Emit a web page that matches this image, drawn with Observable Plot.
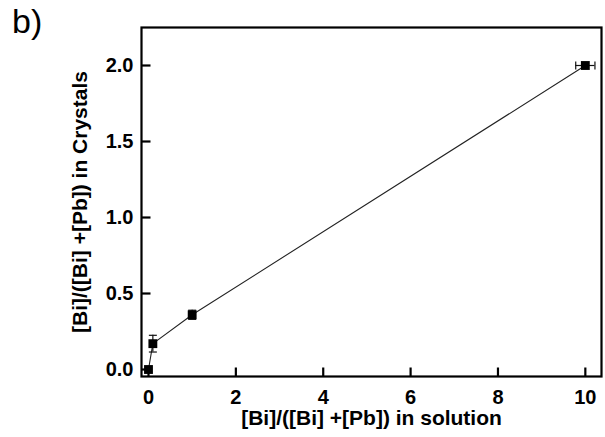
<!DOCTYPE html>
<html><head><meta charset="utf-8">
<script src="https://cdn.jsdelivr.net/npm/d3@7"></script>
<script src="https://cdn.jsdelivr.net/npm/@observablehq/plot@0.6"></script>
<style>
body{margin:0;background:#fff;}
#wrap{position:relative;width:605px;height:437px;}
#lbl{position:absolute;left:12px;top:2px;font:34px "Liberation Sans",Arial,sans-serif;color:#000;}
</style></head>
<body><div id="wrap"><div id="lbl">b)</div></div>
<script>
const xSolution = [0, 0.1, 1, 10];
const yCrystal = [0, 0.17, 0.36, 2.0];
const yErr = [0, 0.055, 0.03, 0];
const xErr = [0, 0, 0, 0.22];
const xTicks = [0, 2, 4, 6, 8, 10];
const yTicks = [0, 0.5, 1.0, 1.5, 2.0];
const xLabel = "[Bi]/([Bi] +[Pb]) in solution";
const yLabel = "[Bi]/([Bi] +[Pb]) in Crystals";

const W = 605, H = 437, mL = 141, mR = 4, mT = 27, mB = 61;
const xDomain = [-0.16, 10.37];
const yDomain = [-0.046, 2.25];
const xTickLen = 9 * (yDomain[1] - yDomain[0]) / (H - mT - mB);
const yTickLen = 9 * (xDomain[1] - xDomain[0]) / (W - mL - mR);
const xTickRows = xTicks.map(v => ({x: v, y1: yDomain[0], y2: yDomain[0] + xTickLen}));
const yTickRows = yTicks.map(v => ({y: v, x1: xDomain[0], x2: xDomain[0] + yTickLen}));

const data = xSolution.map((x, i) => ({x, y: yCrystal[i], ey: yErr[i], ex: xErr[i]}));
const yE = data.filter(d => d.ey > 0);
const xE = data.filter(d => d.ex > 0);
const hCap = {draw(ctx){ ctx.moveTo(-4,0); ctx.lineTo(4,0);} };
const vCap = {draw(ctx){ ctx.moveTo(0,-4); ctx.lineTo(0,4);} };

const font = '"Liberation Sans", Arial, sans-serif';
const chart = Plot.plot({
  width: W, height: H,
  marginLeft: mL, marginRight: mR, marginTop: mT, marginBottom: mB,
  style: {fontFamily: font, fontSize: "20px", fontWeight: "bold", color: "#000", background: "#fff"},
  x: {domain: xDomain, axis: null},
  y: {domain: yDomain, axis: null},
  marks: [
    Plot.text(xTicks, {x: d => d, frameAnchor: "bottom", lineAnchor: "middle", dy: 21, text: d3.format("d"), fontSize: 20, fontWeight: "bold"}),
    Plot.text(yTicks, {y: d => d, frameAnchor: "left", textAnchor: "end", lineAnchor: "middle", dx: -8, text: d3.format(".1f"), fontSize: 20, fontWeight: "bold"}),
    Plot.link(xTickRows, {x1: "x", x2: "x", y1: "y1", y2: "y2", stroke: "#000", strokeWidth: 2.2}),
    Plot.link(yTickRows, {y1: "y", y2: "y", x1: "x1", x2: "x2", stroke: "#000", strokeWidth: 2.2}),
    Plot.text([xLabel], {frameAnchor: "bottom", lineAnchor: "middle", dy: 42, text: d => d, fontSize: 21, fontWeight: "bold"}),
    Plot.text([yLabel], {frameAnchor: "left", textAnchor: "middle", lineAnchor: "middle", dx: -61, rotate: -90, text: d => d, fontSize: 21, fontWeight: "bold"}),
    Plot.line(data, {x: "x", y: "y", stroke: "#222", strokeWidth: 1.1}),
    Plot.ruleX(yE, {x: "x", y1: d => d.y - d.ey, y2: d => d.y + d.ey, stroke: "#111", strokeWidth: 1.2}),
    Plot.dot(yE, {x: "x", y: d => d.y - d.ey, symbol: hCap, stroke: "#111", strokeWidth: 1.2, r: 3}),
    Plot.dot(yE, {x: "x", y: d => d.y + d.ey, symbol: hCap, stroke: "#111", strokeWidth: 1.2, r: 3}),
    Plot.ruleY(xE, {y: "y", x1: d => d.x - d.ex, x2: d => d.x + d.ex, stroke: "#111", strokeWidth: 1.2}),
    Plot.dot(xE, {y: "y", x: d => d.x - d.ex, symbol: vCap, stroke: "#111", strokeWidth: 1.2, r: 3}),
    Plot.dot(xE, {y: "y", x: d => d.x + d.ex, symbol: vCap, stroke: "#111", strokeWidth: 1.2, r: 3}),
    Plot.dot(data, {x: "x", y: "y", symbol: "square", r: 5, fill: "#000"}),
    Plot.frame({stroke: "#000", strokeWidth: 2.2})
  ]
});
document.getElementById("wrap").appendChild(chart);
</script>
</body></html>
